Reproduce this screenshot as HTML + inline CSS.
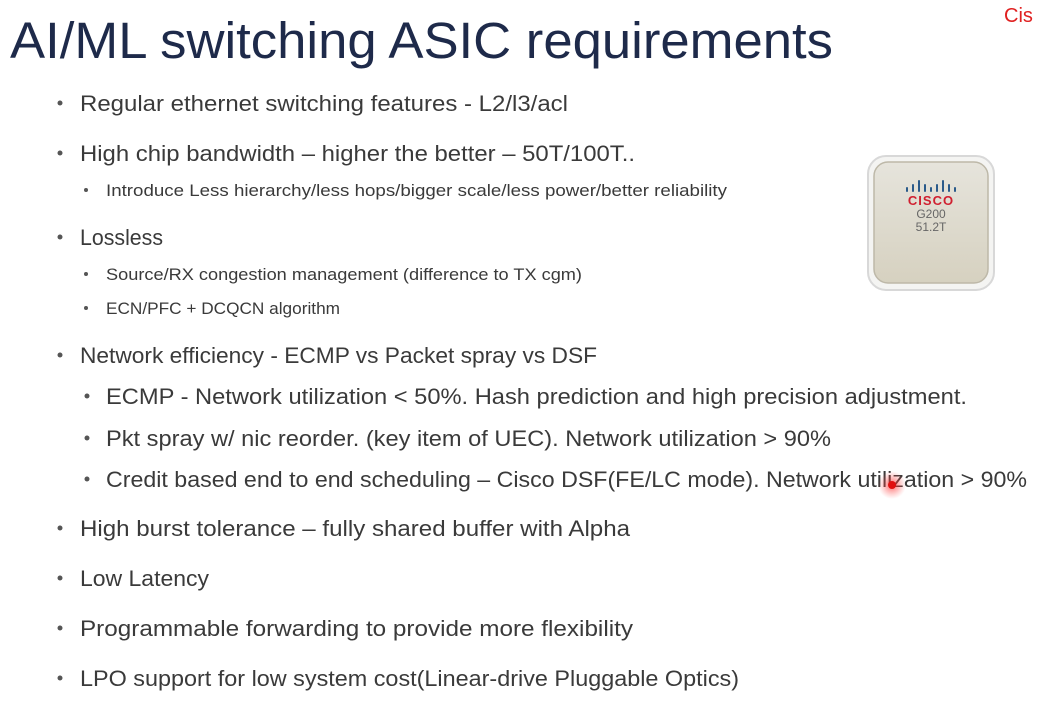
<!DOCTYPE html>
<html><head><meta charset="utf-8"><style>
html,body{margin:0;padding:0;background:#fff;}
svg{display:block;}
.m{font-family:"Liberation Sans",sans-serif;font-size:22px;fill:#3a3a3a;}
.s{font-family:"Liberation Sans",sans-serif;font-size:17px;fill:#3a3a3a;}
</style></head><body>
<svg width="1037" height="704" viewBox="0 0 1037 704" xmlns="http://www.w3.org/2000/svg">
<defs>
<radialGradient id="g" cx="50%" cy="50%" r="50%"><stop offset="0" stop-color="#ff2020" stop-opacity="0.7"/><stop offset="1" stop-color="#ff6060" stop-opacity="0"/></radialGradient>
<linearGradient id="chip" x1="0" y1="0" x2="0" y2="1"><stop offset="0" stop-color="#e6e4dc"/><stop offset="1" stop-color="#d6d1c0"/></linearGradient>
</defs>
<text x="10" y="58" textLength="823" lengthAdjust="spacingAndGlyphs" style="font-family:'Liberation Sans',sans-serif;font-size:51px;fill:#1e2a4a;">AI/ML switching ASIC requirements</text>
<text x="1004" y="22" style="font-family:'Liberation Sans',sans-serif;font-size:20px;fill:#e02020;">Cis</text>

<g fill="#555">
<circle cx="60" cy="103" r="2.5"/><circle cx="60" cy="153" r="2.5"/><circle cx="86" cy="190" r="2"/>
<circle cx="60" cy="237" r="2.5"/><circle cx="86" cy="274" r="2"/><circle cx="86" cy="308" r="2"/>
<circle cx="60" cy="355" r="2.5"/><circle cx="87" cy="396" r="2.5"/><circle cx="87" cy="438" r="2.5"/><circle cx="87" cy="479" r="2.5"/>
<circle cx="60" cy="528" r="2.5"/><circle cx="60" cy="578" r="2.5"/><circle cx="60" cy="628" r="2.5"/><circle cx="60" cy="678" r="2.5"/>
</g>
<text class="m" x="80" y="111" textLength="488" lengthAdjust="spacingAndGlyphs">Regular ethernet switching features - L2/l3/acl</text>
<text class="m" x="80" y="161" textLength="555" lengthAdjust="spacingAndGlyphs">High chip bandwidth – higher the better – 50T/100T..</text>
<text class="s" x="106" y="196" textLength="621" lengthAdjust="spacingAndGlyphs">Introduce Less hierarchy/less hops/bigger scale/less power/better reliability</text>
<text class="m" x="80" y="245" textLength="83" lengthAdjust="spacingAndGlyphs">Lossless</text>
<text class="s" x="106" y="280" textLength="476" lengthAdjust="spacingAndGlyphs">Source/RX congestion management (difference to TX cgm)</text>
<text class="s" x="106" y="314" textLength="234" lengthAdjust="spacingAndGlyphs">ECN/PFC + DCQCN algorithm</text>
<text class="m" x="80" y="363" textLength="517" lengthAdjust="spacingAndGlyphs">Network efficiency - ECMP vs Packet spray vs DSF</text>
<text class="m" x="106" y="404" textLength="861" lengthAdjust="spacingAndGlyphs">ECMP - Network utilization &lt; 50%. Hash prediction and high precision adjustment.</text>
<text class="m" x="106" y="446" textLength="725" lengthAdjust="spacingAndGlyphs">Pkt spray w/ nic reorder. (key item of UEC). Network utilization &gt; 90%</text>
<text class="m" x="106" y="487" textLength="921" lengthAdjust="spacingAndGlyphs">Credit based end to end scheduling – Cisco DSF(FE/LC mode). Network utilization &gt; 90%</text>
<text class="m" x="80" y="536" textLength="550" lengthAdjust="spacingAndGlyphs">High burst tolerance – fully shared buffer with Alpha</text>
<text class="m" x="80" y="586" textLength="129" lengthAdjust="spacingAndGlyphs">Low Latency</text>
<text class="m" x="80" y="636" textLength="553" lengthAdjust="spacingAndGlyphs">Programmable forwarding to provide more flexibility</text>
<text class="m" x="80" y="686" textLength="659" lengthAdjust="spacingAndGlyphs">LPO support for low system cost(Linear-drive Pluggable Optics)</text>

<rect x="868" y="156" width="126" height="134" rx="18" fill="#f4f4f2" stroke="#d8d8d8" stroke-width="2"/>
<rect x="874" y="162" width="114" height="121" rx="14" fill="url(#chip)" stroke="#bdb8a8" stroke-width="1.5"/>
<g stroke="#2a5a8a" stroke-width="2" stroke-linecap="round">
<line x1="907" y1="188" x2="907" y2="191"/><line x1="913" y1="185" x2="913" y2="191"/><line x1="919" y1="181" x2="919" y2="191"/>
<line x1="925" y1="185" x2="925" y2="191"/><line x1="931" y1="188" x2="931" y2="191"/><line x1="937" y1="185" x2="937" y2="191"/>
<line x1="943" y1="181" x2="943" y2="191"/><line x1="949" y1="185" x2="949" y2="191"/><line x1="955" y1="188" x2="955" y2="191"/>
</g>
<text x="931" y="205" text-anchor="middle" style="font-family:'Liberation Sans',sans-serif;font-weight:bold;font-size:13px;fill:#d02030;letter-spacing:1px;">CISCO</text>
<text x="931" y="218" text-anchor="middle" style="font-family:'Liberation Sans',sans-serif;font-size:12px;fill:#666;">G200</text>
<text x="931" y="231" text-anchor="middle" style="font-family:'Liberation Sans',sans-serif;font-size:12px;fill:#666;">51.2T</text>

<circle cx="892" cy="485" r="14" fill="url(#g)"/>
<circle cx="892" cy="485" r="4" fill="#e01010"/>
</svg>
</body></html>
